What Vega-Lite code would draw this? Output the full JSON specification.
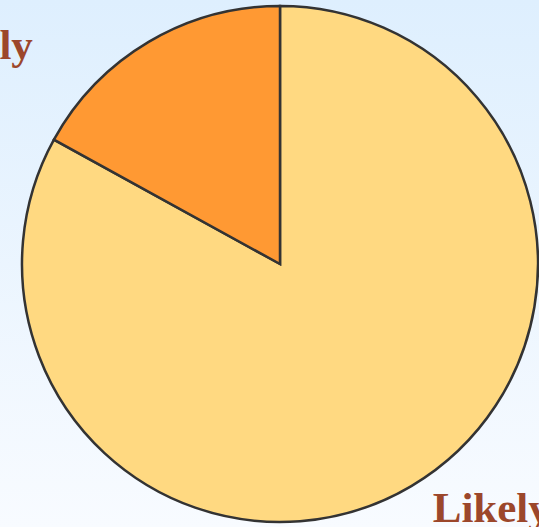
{
  "$schema": "https://vega.github.io/schema/vega-lite/v6.json",
  "width": 539,
  "height": 527,
  "padding": 0,
  "autosize": {"type": "none"},
  "background": "#F8FBFF",
  "view": {
    "stroke": null,
    "fill": {
      "gradient": "linear",
      "x1": 0, "y1": 0, "x2": 0, "y2": 1,
      "stops": [
        {"offset": 0, "color": "#DEEFFE"},
        {"offset": 1, "color": "#F8FBFF"}
      ]
    }
  },
  "data": {
    "values": [
      {"category": "Likely", "value": 83},
      {"category": "Unlikely", "value": 17}
    ]
  },
  "encoding": {
    "theta": {"field": "value", "type": "quantitative", "stack": true},
    "order": {"field": "category", "type": "nominal"}
  },
  "layer": [
    {
      "mark": {"type": "arc", "outerRadius": 258, "xOffset": 10.5, "yOffset": 0.5, "stroke": "#333333", "strokeWidth": 2.5},
      "encoding": {
        "color": {
          "field": "category",
          "type": "nominal",
          "scale": {"domain": ["Likely", "Unlikely"], "range": ["#FFD981", "#FF9933"]},
          "legend": null
        }
      }
    },
    {
      "mark": {"type": "text", "radius": 300, "xOffset": 10.5, "yOffset": 0.5, "align": "left", "baseline": "alphabetic", "font": "Liberation Serif", "fontWeight": "bold", "fontSize": 43, "fill": "#9C472B"},
      "encoding": {"text": {"condition": {"test": "datum.category === 'Likely'", "field": "category"}, "value": ""}}
    },
    {
      "mark": {"type": "text", "radius": 238, "xOffset": 10.5, "yOffset": 0.5, "dx": -126, "align": "right", "baseline": "alphabetic", "font": "Liberation Serif", "fontWeight": "bold", "fontSize": 43, "fill": "#9C472B"},
      "encoding": {"text": {"condition": {"test": "datum.category === 'Unlikely'", "field": "category"}, "value": ""}}
    }
  ]
}
